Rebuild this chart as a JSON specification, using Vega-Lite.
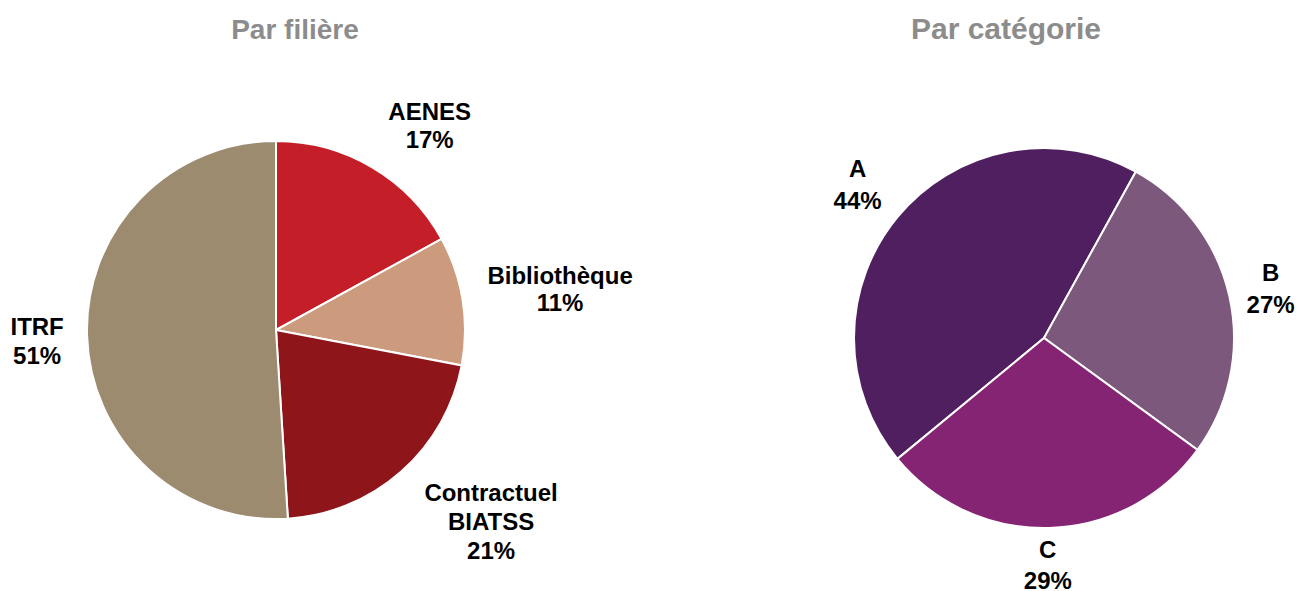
{
  "$schema": "https://vega.github.io/schema/vega-lite/v6.json",
  "padding": {"top": 15, "left": 0, "right": 0, "bottom": 0},
  "background": "white",
  "spacing": 161,
  "resolve": {"scale": {"color": "independent", "theta": "independent"}},
  "config": {
    "view": {"stroke": null},
    "font": "Liberation Sans",
    "title": {"fontSize": 28, "fontWeight": "bold", "color": "#8c8c8c", "anchor": "middle", "font": "Liberation Sans", "frame": "group"},
    "text": {"fontSize": 24, "fontWeight": "bold", "baseline": "middle", "align": "center", "color": "black", "font": "Liberation Sans"}
  },
  "hconcat": [
    {
      "title": {"text": "Par filière", "dx": 19, "offset": 20},
      "width": 552,
      "height": 530,
      "data": {"values": [
        {"filiere": "AENES", "part": 17},
        {"filiere": "Bibliothèque", "part": 11},
        {"filiere": "Contractuel BIATSS", "part": 21},
        {"filiere": "ITRF", "part": 51}
      ]},
      "transform": [
        {"calculate": "split(datum.filiere + ' ' + datum.part + '%', ' ')", "as": "etiquette"}
      ],
      "encoding": {
        "theta": {"field": "part", "type": "quantitative", "stack": true}
      },
      "layer": [
        {
          "mark": {"type": "arc", "outerRadius": 189, "stroke": "white", "strokeWidth": 2},
          "encoding": {
            "color": {
              "field": "filiere", "type": "nominal", "legend": null,
              "scale": {"domain": ["AENES", "Bibliothèque", "Contractuel BIATSS", "ITRF"], "range": ["#c41f28", "#cc9a7d", "#8e161b", "#9c8b6f"]}
            }
          }
        },
        {
          "mark": {"type": "text", "radius": 239, "dx": 32, "dy": -11, "lineHeight": 28},
          "encoding": {"text": {"condition": {"test": "datum.filiere == 'AENES'", "field": "etiquette"}, "value": ""}}
        },
        {
          "mark": {"type": "text", "radius": 239, "dx": 48, "dy": -16, "lineHeight": 27},
          "encoding": {"text": {"condition": {"test": "datum.filiere == 'Bibliothèque'", "field": "etiquette"}, "value": ""}}
        },
        {
          "mark": {"type": "text", "radius": 239, "dx": 57, "dy": -15, "lineHeight": 29},
          "encoding": {"text": {"condition": {"test": "datum.filiere == 'Contractuel BIATSS'", "field": "etiquette"}, "value": ""}}
        },
        {
          "mark": {"type": "text", "radius": 239, "dx": 0, "dy": -10, "lineHeight": 29},
          "encoding": {"text": {"condition": {"test": "datum.filiere == 'ITRF'", "field": "etiquette"}, "value": ""}}
        }
      ]
    },
    {
      "title": {"text": "Par catégorie", "dx": -38, "offset": 20, "fontSize": 30},
      "width": 500,
      "height": 546,
      "data": {"values": [
        {"categorie": "A", "part": 44},
        {"categorie": "B", "part": 27},
        {"categorie": "C", "part": 29}
      ]},
      "transform": [
        {"calculate": "[datum.categorie, datum.part + '%']", "as": "etiquette"}
      ],
      "encoding": {
        "theta": {"field": "part", "type": "quantitative", "stack": true, "scale": {"range": [4.023, 10.306]}}
      },
      "layer": [
        {
          "mark": {"type": "arc", "outerRadius": 190, "stroke": "white", "strokeWidth": 2},
          "encoding": {
            "color": {
              "field": "categorie", "type": "nominal", "legend": null,
              "scale": {"domain": ["A", "B", "C"], "range": ["#4f1f5f", "#7b587c", "#862474"]}
            }
          }
        },
        {
          "mark": {"type": "text", "radius": 228, "dx": -11, "dy": -22, "lineHeight": 32},
          "encoding": {"text": {"condition": {"test": "datum.categorie == 'A'", "field": "etiquette"}, "value": ""}}
        },
        {
          "mark": {"type": "text", "radius": 228, "dx": 4, "dy": -15, "lineHeight": 32},
          "encoding": {"text": {"condition": {"test": "datum.categorie == 'B'", "field": "etiquette"}, "value": ""}}
        },
        {
          "mark": {"type": "text", "radius": 228, "dx": -3, "dy": -15, "lineHeight": 31},
          "encoding": {"text": {"condition": {"test": "datum.categorie == 'C'", "field": "etiquette"}, "value": ""}}
        }
      ]
    }
  ]
}
